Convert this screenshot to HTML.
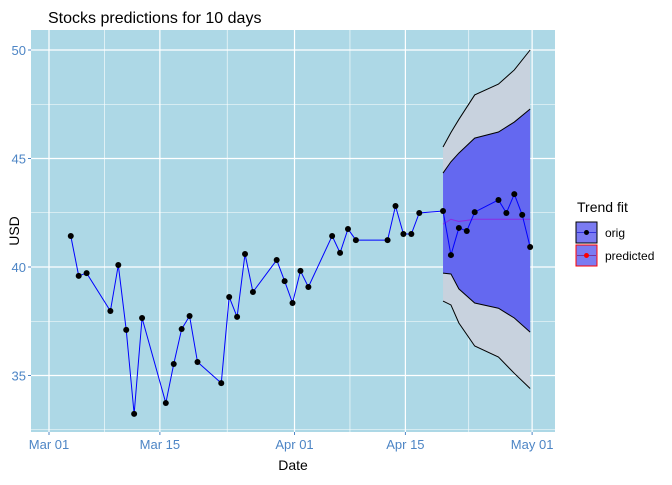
<!DOCTYPE html>
<html><head><meta charset="utf-8"><style>
body{margin:0;background:#fff;}
svg text{font-family:"Liberation Sans",Arial,sans-serif;}
</style></head><body>
<svg id="chart" width="672" height="480" xmlns="http://www.w3.org/2000/svg">
<rect x="0" y="0" width="672" height="480" fill="#fff"/>
<text x="48" y="23" font-size="16" fill="#000">Stocks predictions for 10 days</text>
<rect x="31" y="30" width="524" height="402" fill="#add8e6"/>
<g id="grid"></g>
<g id="bands"></g>
<g id="series"></g>
<g id="axes"></g>
<text x="293" y="470" font-size="14" text-anchor="middle" fill="#000">Date</text>
<text transform="translate(19,231) rotate(-90)" font-size="14" text-anchor="middle" fill="#000">USD</text>
<g>
<text x="577" y="212" font-size="14" fill="#000">Trend fit</text>
<g>
<rect x="576" y="222" width="21" height="21" fill="#7b7bf2" stroke="#000" stroke-width="1"/>
<line x1="577" y1="232.5" x2="596" y2="232.5" stroke="#3333dd"/>
<circle cx="586.5" cy="232.5" r="2.5" fill="#000"/>
<text x="605" y="237" font-size="12" fill="#000">orig</text>
</g>
<g>
<rect x="576" y="245" width="21" height="21" fill="#7b7bf2" stroke="#f00" stroke-width="1"/>
<line x1="577" y1="255.5" x2="596" y2="255.5" stroke="#7a3399"/>
<circle cx="586.5" cy="255.5" r="2.5" fill="#f00"/>
<text x="605" y="260" font-size="12" fill="#000">predicted</text>
</g>
</g>
</svg>
<script>
// day offsets since Mar 01
const origDays=[3,4,5,8,9,10,11,12,15,16,17,18,19,22,23,24,25,26,29,30,31,32,33,36,37,38,39,43,44,45,46,47,50,51,52,53,54,57,58,59,60,61];
const origValues=[41.43,39.59,39.72,37.97,40.09,37.10,33.23,37.65,33.73,35.53,37.14,37.74,35.62,34.65,38.62,37.70,40.60,38.85,40.32,39.35,38.34,39.82,39.08,41.43,40.65,41.75,41.24,41.24,42.81,41.52,41.52,42.49,42.58,40.55,41.80,41.66,42.53,43.09,42.49,43.36,42.40,40.92];
const predDays=[50,51,52,53,54,55,56,57,58,59,60,61];
const predValues=[41.97,42.2,42.1,42.15,42.2,42.2,42.2,42.2,42.2,42.2,42.2,42.2];
const bandDays=[50,51,52,54,57,59,61];
const outerUpper=[45.53,46.2,46.8,47.93,48.43,49.08,50.0];
const innerUpper=[44.33,44.85,45.25,45.94,46.22,46.68,47.28];
const innerLower=[39.72,39.68,38.99,38.34,38.1,37.65,37.0];
const outerLower=[38.43,38.25,37.42,36.36,35.85,35.1,34.4];
const yTicks=[35,40,45,50];
const yMinor=[32.5,37.5,42.5,47.5];
const xTickDays=[0,14,31,45,61];
const xTickLabels=["Mar 01","Mar 15","Apr 01","Apr 15","May 01"];
const xMinorDays=[7,22.5,38,53];

const NS="http://www.w3.org/2000/svg";
const x=d=>49+d*7.92;
const xp=d=>49+(d-0.25)*7.92;
const y=v=>267-(v-40)*21.7;
function mk(tag,attrs,parent){const e=document.createElementNS(NS,tag);for(const k in attrs)e.setAttribute(k,attrs[k]);parent.appendChild(e);return e;}
const grid=document.getElementById('grid'),bands=document.getElementById('bands'),series=document.getElementById('series'),axes=document.getElementById('axes');
yMinor.forEach(v=>{const l=mk('line',{x1:31,x2:555,y1:y(v),y2:y(v),stroke:'#fff','stroke-width':0.6},grid);

});
xMinorDays.forEach(d=>{const l=mk('line',{x1:x(d),x2:x(d),y1:30,y2:432,stroke:'#fff','stroke-width':0.6},grid);

});
yTicks.forEach(v=>{const l=mk('line',{x1:31,x2:555,y1:y(v),y2:y(v),stroke:'#fff','stroke-width':1.2},grid);


const t=mk('text',{x:26,y:y(v)+5,'font-size':13,'text-anchor':'end',fill:'#4d85c5'},axes);t.textContent=v;


const tk=mk('line',{x1:28,x2:31,y1:y(v),y2:y(v),stroke:'#4d85c5'},axes);

});
xTickDays.forEach((d,i)=>{const l=mk('line',{x1:x(d),x2:x(d),y1:30,y2:432,stroke:'#fff','stroke-width':1.2},grid);


const t=mk('text',{x:x(d),y:449,'font-size':13,'text-anchor':'middle',fill:'#4d85c5'},axes);t.textContent=xTickLabels[i];


const tk=mk('line',{x1:x(d),x2:x(d),y1:432,y2:435,stroke:'#4d85c5'},axes);

});
function area(up,lo){let p=bandDays.map((d,i)=>`${xp(d)},${y(up[i])}`);for(let i=bandDays.length-1;i>=0;i--)p.push(`${xp(bandDays[i])},${y(lo[i])}`);return p.join(' ');}
const ob=mk('polygon',{points:area(outerUpper,outerLower),fill:'#c8d2de'},bands);


const ib=mk('polygon',{points:area(innerUpper,innerLower),fill:'#6468f0'},bands);


[outerUpper,innerUpper,innerLower,outerLower].forEach(arr=>{const l=mk('polyline',{points:bandDays.map((d,i)=>`${xp(d)},${y(arr[i])}`).join(' '),fill:'none',stroke:'#000','stroke-width':1},bands);

});
const pl=mk('polyline',{points:predDays.map((d,i)=>`${xp(d)},${y(predValues[i])}`).join(' '),fill:'none',stroke:'#8a2be2','stroke-width':1},series);


const ol=mk('polyline',{points:origDays.map((d,i)=>`${xp(d)},${y(origValues[i])}`).join(' '),fill:'none',stroke:'#0000ff','stroke-width':1},series);


origDays.forEach((d,i)=>{const c=mk('circle',{cx:xp(d),cy:y(origValues[i]),r:3,fill:'#000'},series);

});
</script>
</body></html>
